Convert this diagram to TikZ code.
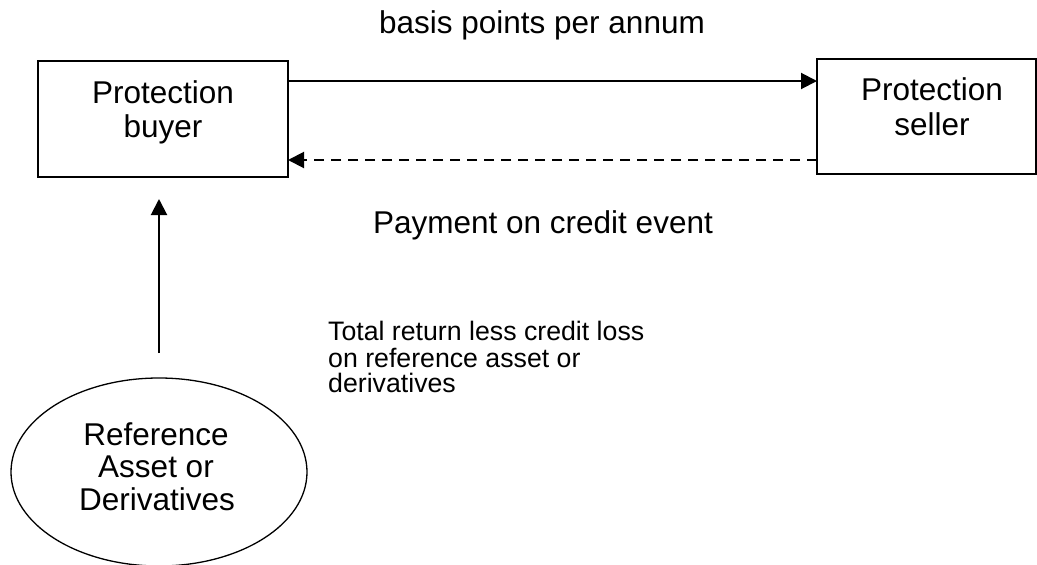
\documentclass[tikz,border=0pt]{standalone}
\usepackage{fontspec}
\setmainfont{Liberation Sans}
\usetikzlibrary{arrows.meta,shapes.geometric,calc}
\begin{document}
\begin{tikzpicture}[x=1pt,y=-1pt,
  box/.style={draw,line width=1.3pt,inner sep=0pt,outer sep=0pt},
  big/.style={font=\fontsize{31.5}{34}\selectfont,inner sep=0pt,anchor=base},
  small/.style={font=\fontsize{26.7}{27}\selectfont,inner sep=0pt,anchor=base west},
  flow/.style={line width=2pt,-{Triangle[length=16pt,width=16pt]}},
]
\useasboundingbox (0,0) rectangle (1037,565);
% boxes
\node[box,minimum width=250pt,minimum height=116pt] (buyer) at (163,119) {};
\node[box,minimum width=219pt,minimum height=115pt] (seller) at (926.5,116.5) {};
\node[box,ellipse,minimum width=296pt,minimum height=188pt] (ref) at (159,472) {};
% box texts
\node[big] (b1) at (163,103) {Protection};
\node[big] (b2) at (163,137) {buyer};
\node[big] (s1) at (932,100) {Protection};
\node[big] (s2) at (932,135) {seller};
\node[big] (r1) at (156,445) {Reference};
\node[big] (r2) at (156,477) {Asset or};
\node[big] (r3) at (157,510) {Derivatives};
% labels
\node[big] (lbp) at (542,33) {basis points per annum};
\node[big] (lpay) at (543,233) {Payment on credit event};
\node[small] (t1) at (328,340) {Total return less credit loss};
\node[small] (t2) at (328,367) {on reference asset or};
\node[small] (t3) at (328,392) {derivatives};
% connectors
\draw[flow] ([yshift=-20pt]buyer.north east) -- ([yshift=-22pt]seller.north west);
\draw[flow,dash pattern=on 10pt off 7pt] ([yshift=-101pt]seller.north west) -- ([yshift=-99pt]buyer.north east);
\draw[flow] ([yshift=25pt]ref.north) -- ($(ref.north |- buyer.south)+(0,22)$);
\end{tikzpicture}
\end{document}
